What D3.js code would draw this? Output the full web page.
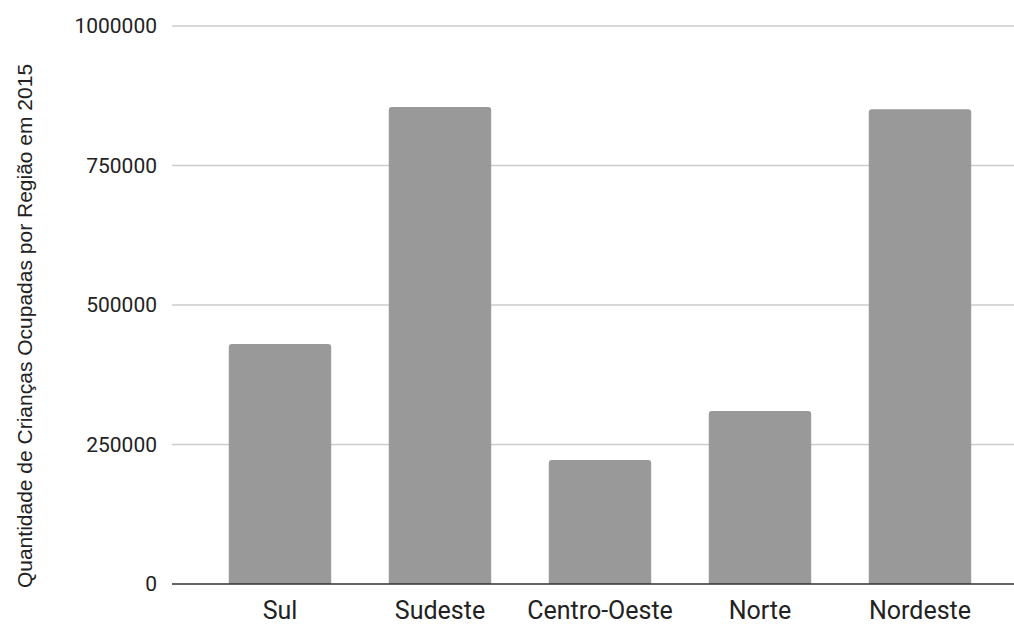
<!DOCTYPE html>
<html><head><meta charset="utf-8">
<script src="https://cdn.jsdelivr.net/npm/d3@7/dist/d3.min.js"></script>
<style>html,body{margin:0;padding:0;background:#fff;}</style>
</head><body>
<svg id="chart" width="1014" height="624"></svg>
<script>
const categories = ["Sul", "Sudeste", "Centro-Oeste", "Norte", "Nordeste"];
const values = [430000, 855000, 222000, 310000, 851000];
const yTicks = [0, 250000, 500000, 750000, 1000000];
const yTitle = "Quantidade de Crianças Ocupadas por Região em 2015";

const svg = d3.select("#chart");
const x = d3.scaleBand().domain(categories).range([200, 1000]).paddingInner(0.36).paddingOuter(0.18);
const y = d3.scaleLinear().domain([0, 1000000]).range([584, 26]);

// gridlines
svg.append("g").selectAll("line").data(yTicks.filter(d => d > 0)).join("line")
  .attr("x1", 172).attr("x2", 1014)
  .attr("y1", d => y(d)).attr("y2", d => y(d))
  .attr("stroke", "#cccccc").attr("stroke-width", 1.5);

// y axis labels
const yAxis = d3.axisLeft(y).tickValues(yTicks).tickSize(0).tickPadding(0).tickFormat(d3.format("d"));
const ya = svg.append("g").attr("transform", "translate(157,0)").call(yAxis);
ya.select(".domain").remove();
ya.selectAll("text").attr("font-family", "Roboto").attr("font-size", 21).attr("fill", "#222");

// bars with rounded top corners
const r = 3;
svg.append("g").selectAll("path").data(values).join("path")
  .attr("fill", "#999999")
  .attr("d", (d, i) => {
    const x0 = x(categories[i]), w = x.bandwidth(), y0 = y(d), yb = y(0);
    return `M${x0},${yb}V${y0 + r}Q${x0},${y0} ${x0 + r},${y0}H${x0 + w - r}Q${x0 + w},${y0} ${x0 + w},${y0 + r}V${yb}Z`;
  });

// baseline
svg.append("line").attr("x1", 172).attr("x2", 1014).attr("y1", y(0)).attr("y2", y(0))
  .attr("stroke", "#333").attr("stroke-width", 1.5);

// x axis labels
const xAxis = d3.axisBottom(x).tickSize(0).tickPadding(0);
const xa = svg.append("g").attr("transform", "translate(0,619)").call(xAxis);
xa.select(".domain").remove();
xa.selectAll("text").attr("dy", 0).attr("font-family", "Roboto").attr("font-size", 25).attr("fill", "#222");

// y title
svg.append("text").attr("transform", "translate(32,326) rotate(-90)")
  .attr("text-anchor", "middle").attr("font-family", "Liberation Sans, Arial").attr("font-size", 21)
  .attr("fill", "#222").text(yTitle);
</script>
</body></html>
